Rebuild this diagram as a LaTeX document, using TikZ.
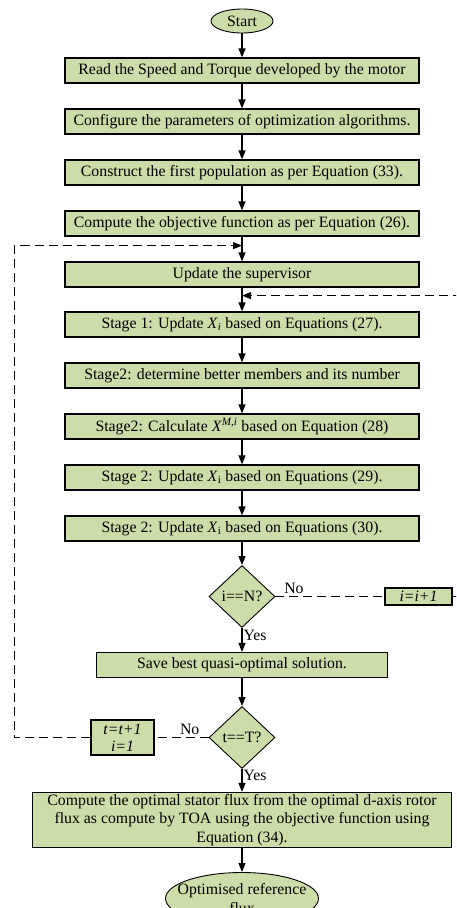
\documentclass[tikz,border=0pt]{standalone}
\usepackage{fontspec}
\setmainfont{Liberation Serif}
\usepackage{xcolor}
\usetikzlibrary{shapes.geometric, arrows.meta}
\definecolor{boxgreen}{RGB}{205,221,170}
\tikzstyle{startstop} = [ellipse, draw=black, fill=boxgreen, text centered, inner sep=0pt, line width=0.9pt]
\tikzstyle{process} = [rectangle, minimum width=354pt, minimum height=25pt, inner sep=0pt, text centered, draw=black, fill=boxgreen, line width=1.2pt]
\tikzstyle{decision} = [diamond, minimum width=66pt, minimum height=62pt, inner sep=0pt, text centered, draw=black, fill=boxgreen, line width=0.9pt]
\tikzstyle{counter} = [rectangle, inner sep=0pt, align=center, font=\fontsize{15.8pt}{17pt}\selectfont\itshape, draw=black, fill=boxgreen, line width=1.2pt]
\tikzstyle{arrow} = [line width=1.2pt,-{Triangle[length=9pt,width=7pt]}]
\tikzstyle{loopline} = [line width=1.1pt, dash pattern=on 9pt off 5pt]
\tikzstyle{looparrow} = [loopline, -{Triangle[length=9pt,width=7pt]}]

\begin{document}
\begin{tikzpicture}[node distance=51pt, font=\fontsize{15.8pt}{18.5pt}\selectfont]
		\clip (0,0) rectangle (456pt,-908pt);
		\node (start) [startstop, minimum width=62pt, minimum height=24pt] at (242pt,-21pt) {Start};
		\node (read) [process, below of=start, yshift=1.5pt] {Read the Speed and Torque developed by the motor};
		\node (config) [process, below of=read] {Configure the parameters of optimization algorithms.};
		\node (pop) [process, below of=config] {Construct the first population as per Equation (33).};
		\node (obj) [process, below of=pop] {Compute the objective function as per Equation (26).};
		\node (sup) [process, below of=obj] {Update the supervisor};
		\node (stage1) [process, below of=sup, yshift=1pt] {Stage 1: Update \textit{X}\textsubscript{\textit{i}} based on Equations (27).};
		\node (better) [process, below of=stage1] {Stage2: determine better members and its number};
		\node (calc) [process, below of=better] {Stage2: Calculate \textit{X}\textsuperscript{\textit{M,i}} based on Equation (28)};
		\node (upd29) [process, below of=calc] {Stage 2: Update \textit{X}\textsubscript{i} based on Equations (29).};
		\node (upd30) [process, below of=upd29] {Stage 2: Update \textit{X}\textsubscript{i} based on Equations (30).};
		\node (dec1) [decision, below of=upd30, yshift=-17pt] {i==N?};
		\node (save) [process, minimum width=291pt, below of=dec1, yshift=-17.5pt] {Save best quasi-optimal solution.};
		\node (dec2) [decision, below of=save, yshift=-21.5pt] {t==T?};
		\node (final) [process, minimum width=419pt, minimum height=55pt, align=center, below of=dec2, yshift=-31.5pt] {Compute the optimal stator flux from the optimal d-axis rotor\\flux as compute by TOA using the objective function using\\Equation (34).};
		\node (stop) [startstop, minimum width=153pt, minimum height=52pt, inner xsep=-12pt, align=center, below of=final, yshift=-27.5pt] {Optimised reference\\flux};
		\node (inci) [counter, minimum width=67pt, minimum height=17pt, right of=dec1, xshift=125.5pt] {i=i+1};
		\node (inct) [counter, minimum width=63pt, minimum height=35pt, left of=dec2, xshift=-68.5pt] {t=t+1\\i=1};
		\coordinate (join1) at ([yshift=-9pt]obj.south);
		\coordinate (join2) at ([yshift=-8pt]sup.south);
		\draw [arrow] (start) -- (read);
		\draw [arrow] (read) -- (config);
		\draw [arrow] (config) -- (pop);
		\draw [arrow] (pop) -- (obj);
		\draw [arrow] (obj) -- (sup);
		\draw [arrow] (sup) -- (stage1);
		\draw [arrow] (stage1) -- (better);
		\draw [arrow] (better) -- (calc);
		\draw [arrow] (calc) -- (upd29);
		\draw [arrow] (upd29) -- (upd30);
		\draw [arrow] (upd30) -- (dec1);
		\draw [arrow] (dec1) -- node[anchor=west, pos=0.32, inner sep=1pt] {Yes} (save);
		\draw [arrow] (save) -- (dec2);
		\draw [arrow] (dec2) -- node[anchor=west, pos=0.3, inner sep=1pt] {Yes} (final);
		\draw [arrow] (final) -- (stop);
		\draw [loopline] (dec1) -- node[anchor=south, pos=0.17, inner sep=2pt] {No} (inci);
		\draw [looparrow] (inci.east) -- ++(8pt,0) |- (join2);
		\draw [loopline] (dec2) -- node[anchor=south, pos=0.35, inner sep=2pt] {No} (inct);
		\draw [looparrow] (inct.west) -- ++(-76pt,0) |- (join1);
	\end{tikzpicture}
\end{document}
